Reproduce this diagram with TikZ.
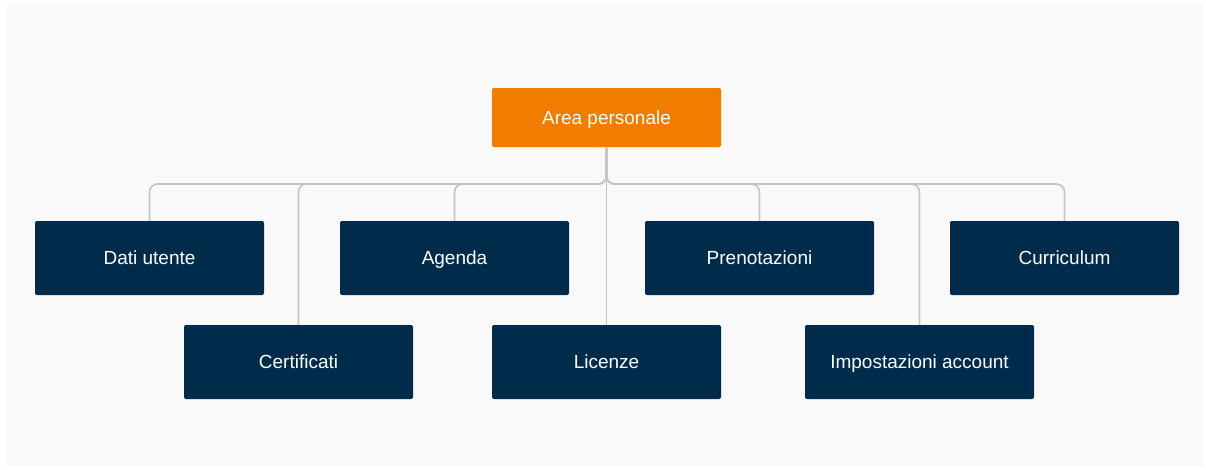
\documentclass[tikz,border=0pt]{standalone}
\usepackage{fontspec}
\setmainfont{Liberation Sans}
\definecolor{panel}{HTML}{F9F9F9}
\definecolor{navy}{HTML}{012B4A}
\definecolor{orangeb}{HTML}{F07D00}
\definecolor{linec}{HTML}{C4C4C4}
\begin{document}
\begin{tikzpicture}[x=1pt,y=-1pt,
  box/.style={rectangle, rounded corners=2pt, text=white, inner sep=0pt,
    minimum width=229pt, text height=13.6pt, text depth=0pt,
    font=\fontsize{19}{22}\selectfont},
  child/.style={box, fill=navy, minimum height=74pt},
  rootbox/.style={box, fill=orangeb, minimum height=59pt},
  conn/.style={draw=linec, line width=1.6pt, rounded corners=8pt}]
\useasboundingbox (0,0) rectangle (1206,469);
\fill[white] (0,0) rectangle (1206,469);
\fill[panel] (7,5) rectangle (1203,466);
\node[rootbox] (root) at (606.5,117.5) {Area personale};
\node[child] (dati) at (149.5,258) {Dati utente};
\node[child] (agenda) at (454.5,258) {Agenda};
\node[child] (pren) at (759.5,258) {Prenotazioni};
\node[child] (curr) at (1064.5,258) {Curriculum};
\node[child] (cert) at (298.5,362) {Certificati};
\node[child] (lic) at (606.5,362) {Licenze};
\node[child] (imp) at (919.5,362) {Impostazioni account};
\coordinate (bus) at (606.5,184);
\foreach \c in {dati,agenda,pren,curr,cert,imp}{
  \draw[conn] (root.south) -- (bus) -| (\c.north);
}
\draw[conn] (root.south) -- (lic.north);
\end{tikzpicture}
\end{document}
